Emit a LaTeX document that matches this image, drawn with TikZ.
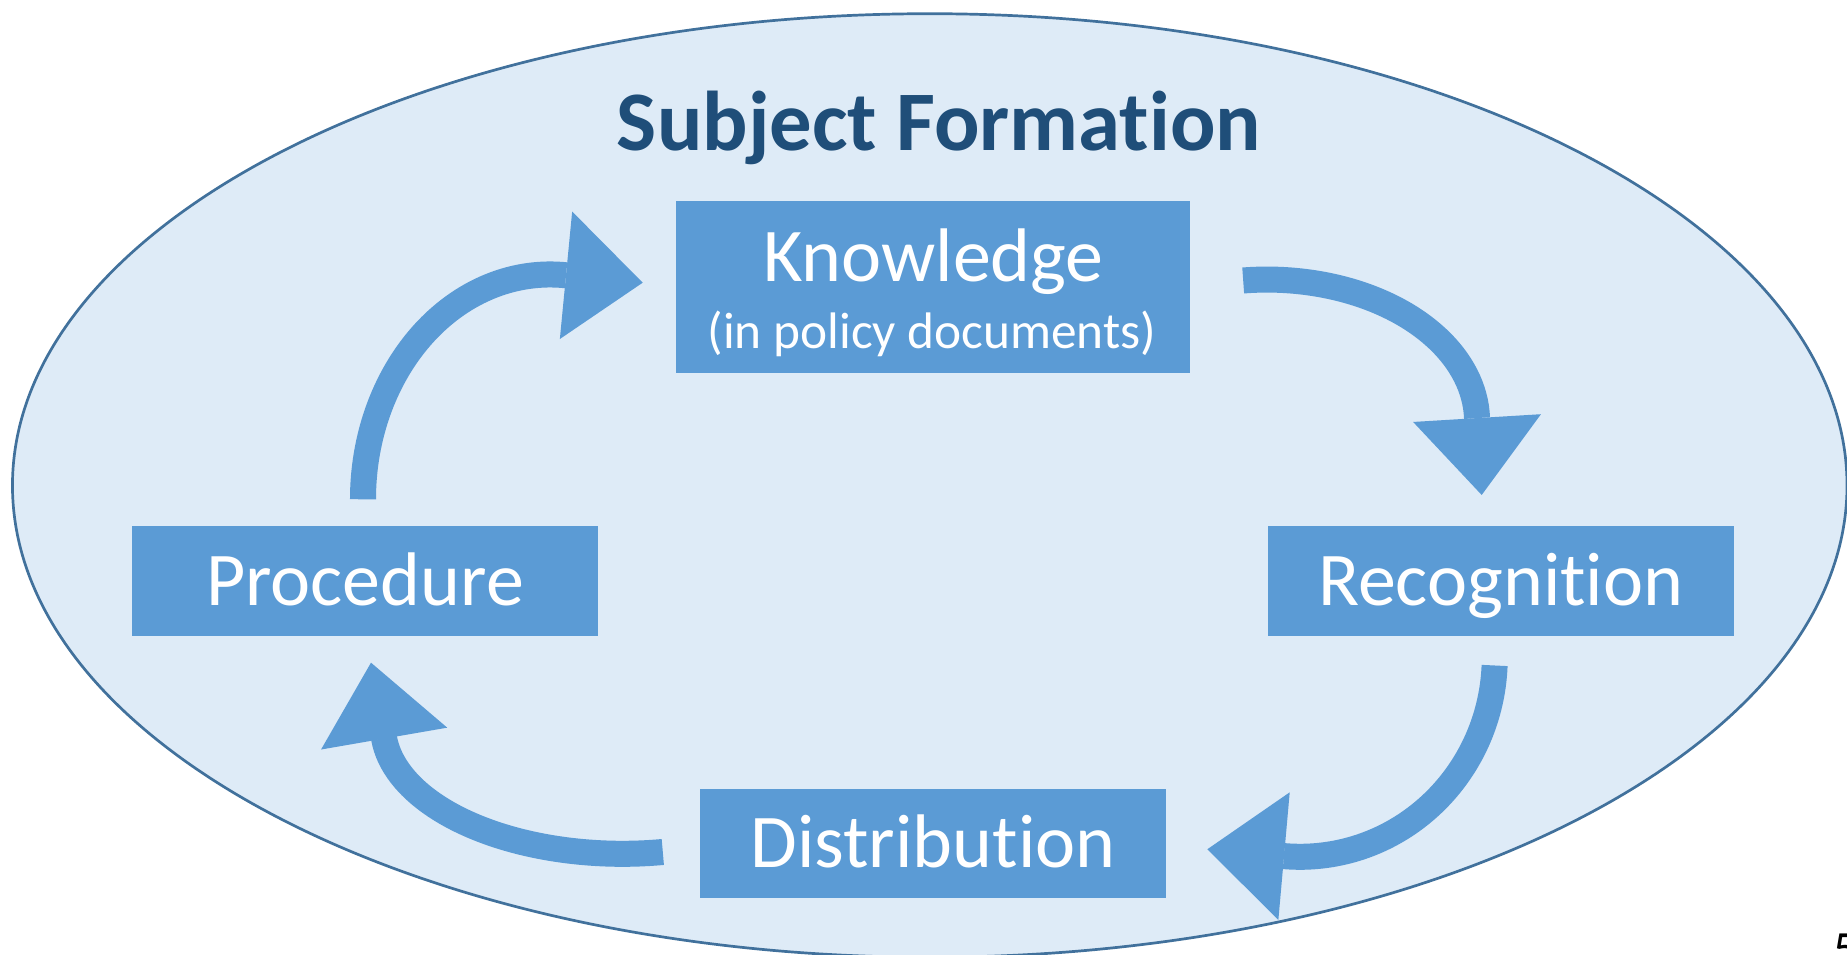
\documentclass[tikz,border=0pt]{standalone}
\usepackage{fontspec}
\setmainfont{Carlito}[Ligatures=NoCommon, RawFeature=-liga]
\usetikzlibrary{arrows.meta}
\definecolor{cyclefill}{HTML}{DEEBF7}
\definecolor{cycleline}{HTML}{41719C}
\definecolor{stagefill}{HTML}{5B9BD5}
\definecolor{titleblue}{HTML}{1F4E79}

\begin{document}
\begin{tikzpicture}[x=0.01cm, y=0.01cm,
  stage/.style={fill=stagefill, draw=none, text=white, inner sep=0pt,
    minimum width=4.66cm, minimum height=1.095cm,
    font=\fontsize{21.6pt}{26pt}\selectfont, text height=0.48cm, text depth=0pt},
  stagelabel/.style={text=white, inner sep=0pt, anchor=base},
  flow/.style={draw=stagefill, line width=0.26cm,
    -{Triangle[width=1.28cm, length=0.77cm, line width=0pt]}},
]
\useasboundingbox (0,0) rectangle (1847,955);

% outer ellipse
\path[fill=cyclefill, draw=cycleline, line width=0.027cm]
  (929.75,469.5) ellipse [x radius=9.1675cm, y radius=4.715cm];

% heading
\node[anchor=base, inner sep=0pt, text=titleblue,
  font=\fontsize{24.1pt}{28pt}\selectfont\bfseries] (heading) at (939,804.3) {Subject Formation};

% stages of the cycle
\node[stage, minimum width=5.14cm, minimum height=1.72cm] (know) at (933,668) {};
\node[stagelabel, font=\fontsize{21.6pt}{26pt}\selectfont] (knowmain) at (933.5,673.3) {Knowledge};
\node[stagelabel, font=\fontsize{14.6pt}{18pt}\selectfont] (knowsub) at (932,606) {(in policy documents)};

\node[stage] (recog) at (1500.75,373.75) {Recognition};
\node[stage] (distr) at (933,111.5) {Distribution};
\node[stage] (proc) at (365,373.75) {Procedure};

% arrow ends
\coordinate (f1s) at (363,455.7);
\coordinate (f1e) at (642.7,672.3);
\coordinate (f2s) at (1243.2,674.5);
\coordinate (f2e) at (1481.7,460);
\coordinate (f3s) at (1494.6,289.5);
\coordinate (f3e) at (1207.3,105.7);
\coordinate (f4s) at (662.8,103);
\coordinate (f4e) at (371,292.3);

% curved block arrows
\draw[flow] (f1s) arc[start angle=180, end angle=85.4, x radius=1.87cm, y radius=2.247cm] -- (f1e);
\draw[flow] (f2s) arc[start angle=96.5, end angle=1.5, x radius=2.10cm, y radius=1.42cm] -- (f2e);
\draw[flow] (f3s) arc[start angle=-2.3, end angle=-94.8, x radius=1.945cm, y radius=1.992cm] -- (f3e);
\draw[flow] (f4s) arc[start angle=-80.3, end angle=-174.67, x radius=2.393cm, y radius=1.274cm] -- (f4e);

% page number at the corner
\node[anchor=base west, inner sep=0pt, font=\fontsize{14pt}{16pt}\selectfont] (pagenum) at (1833,-11) {5};
\end{tikzpicture}
\end{document}
